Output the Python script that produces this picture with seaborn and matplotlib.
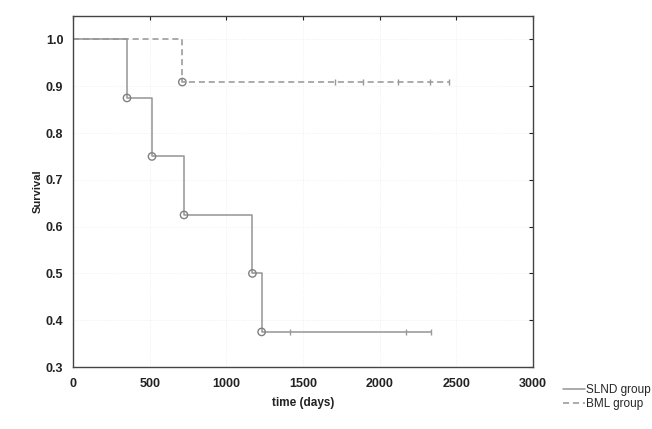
import matplotlib
matplotlib.use("Agg")
import matplotlib.pyplot as plt
import seaborn as sns

# Kaplan-Meier step data
slnd_time = [0, 352, 515, 724, 1170, 1230, 2334]
slnd_surv = [1.0, 0.875, 0.75, 0.625, 0.5, 0.375, 0.375]
slnd_event_time = [352, 515, 724, 1170, 1230]
slnd_event_surv = [0.875, 0.75, 0.625, 0.5, 0.375]
slnd_cens_time = [1413, 2174, 2334]
slnd_cens_surv = [0.375, 0.375, 0.375]

bml_time = [0, 713, 2452]
bml_surv = [1.0, 0.909, 0.909]
bml_event_time = [713]
bml_event_surv = [0.909]
bml_cens_time = [1709, 1892, 2120, 2329, 2453]
bml_cens_surv = [0.909] * 5

x_ticks = [0, 500, 1000, 1500, 2000, 2500, 3000]
y_ticks = [0.3, 0.4, 0.5, 0.6, 0.7, 0.8, 0.9, 1.0]

sns.set_style("white")
plt.rcParams["font.family"] = ["Liberation Sans", "DejaVu Sans"]

fig = plt.figure(figsize=(6.52, 4.29), dpi=100)
ax = fig.add_axes([0.112, 0.1445, 0.7055, 0.818])

col = "#959595"
sns.lineplot(x=slnd_time, y=slnd_surv, ax=ax, drawstyle="steps-post",
             color=col, lw=1.1, estimator=None, sort=False, label="SLND group")
sns.lineplot(x=bml_time, y=bml_surv, ax=ax, drawstyle="steps-post",
             color=col, lw=1.1, ls=(0, (4, 2.5)), estimator=None, sort=False,
             label="BML group")

# event circles and censoring ticks
for t, s in [(slnd_event_time, slnd_event_surv), (bml_event_time, bml_event_surv)]:
    sns.scatterplot(x=t, y=s, ax=ax, marker="o", s=28, facecolor="none",
                    edgecolor="#808080", linewidth=1.0, zorder=4)
for t, s in [(slnd_cens_time, slnd_cens_surv), (bml_cens_time, bml_cens_surv)]:
    sns.scatterplot(x=t, y=s, ax=ax, marker="|", s=20, color="#999999",
                    linewidth=1.0, zorder=4)

ax.set_xlim(0, 3000)
ax.set_ylim(0.3, 1.05)
ax.set_xticks(x_ticks)
ax.set_yticks(y_ticks)
ax.set_yticklabels([f"{v:.1f}" for v in y_ticks])
ax.grid(True, color="#ececec", lw=0.6, ls=":")
ax.tick_params(direction="in", length=3, width=0.8, top=True, right=True,
               labelsize=9, colors="#222222")
ax.tick_params(axis="x", pad=8)
ax.tick_params(axis="y", pad=7)
for lab in ax.get_xticklabels() + ax.get_yticklabels():
    lab.set_fontweight("bold")
for sp in ax.spines.values():
    sp.set_color("#444444")
    sp.set_linewidth(1.0)

ax.set_xlabel("time (days)", fontsize=8.5, fontweight="bold", color="#222222", labelpad=5)
ax.set_ylabel("Survival", fontsize=8, fontweight="bold", color="#222222", labelpad=2)

handles, labels = ax.get_legend_handles_labels()
ax.legend_.remove()
fig.legend(handles, labels, loc="lower left", bbox_to_anchor=(0.855, 0.03),
           frameon=False, fontsize=8.5, handlelength=1.8, handletextpad=0.1,
           labelspacing=0.15, borderpad=0)

fig.savefig("out.png", dpi=100)
